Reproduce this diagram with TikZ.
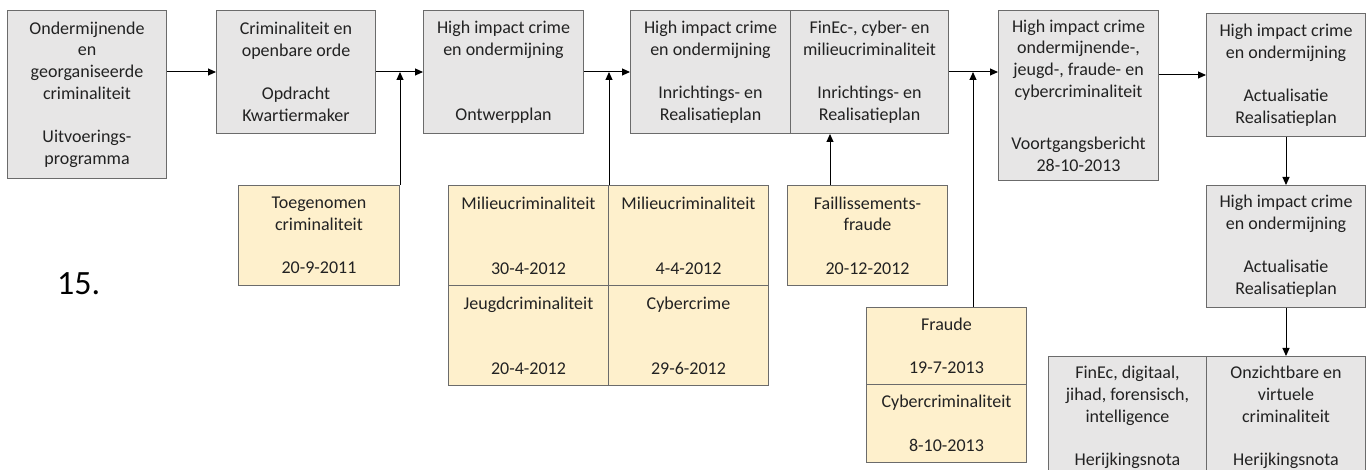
\documentclass[tikz,border=0pt]{standalone}
\usepackage{fontspec}
\setmainfont{Carlito}
\usetikzlibrary{arrows.meta}
\definecolor{boxgray}{HTML}{E7E6E6}
\definecolor{boxyellow}{HTML}{FEF0CC}
\definecolor{edge}{HTML}{6B6B6B}
\definecolor{ink}{HTML}{222222}
\tikzset{
  base/.style={draw=edge, line width=1pt, anchor=north west, inner sep=0pt,
    align=center, text=ink, font=\fontsize{18pt}{21.7pt}\selectfont},
  gbox/.style={base, fill=boxgray},
  ybox/.style={base, fill=boxyellow},
  arr/.style={draw=black, line width=1pt, -{Triangle[length=8pt,width=7pt]}},
}
\begin{document}
\begin{tikzpicture}[x=1pt,y=-1pt]
\useasboundingbox (0,0) rectangle (1371,470);
\clip (0,0) rectangle (1371,470);
\fill[white] (0,0) rectangle (1371,470);

% main chain of plans
\node[gbox, minimum width=159pt, minimum height=168pt] (b1) at (7,10)
  {Ondermijnende\\en\\georganiseerde\\criminaliteit\\ \\Uitvoerings-\\programma};
\node[gbox, minimum width=159pt, minimum height=123pt] (b2) at (216,10)
  {Criminaliteit en\\openbare orde\\ \\Opdracht\\Kwartiermaker};
\node[gbox, minimum width=160pt, minimum height=123pt] (b3) at (423,10)
  {High impact crime\\en ondermijning\\ \\ \\Ontwerpplan};
\node[gbox, minimum width=160pt, minimum height=123pt] (b4l) at (630,10)
  {High impact crime\\en ondermijning\\ \\Inrichtings- en\\Realisatieplan};
\node[gbox, minimum width=158pt, minimum height=123pt] (b4r) at (790,10)
  {FinEc-, cyber- en\\milieucriminaliteit\\ \\Inrichtings- en\\Realisatieplan};
\node[gbox, minimum width=160pt, minimum height=170pt] (b5) at (998,10)
  {High impact crime\\ondermijnende-,\\jeugd-, fraude- en\\cybercriminaliteit\\[9pt] \\Voortgangsbericht\\28-10-2013};
\node[gbox, minimum width=159pt, minimum height=123pt] (b6) at (1206,13)
  {High impact crime\\en ondermijning\\ \\Actualisatie\\Realisatieplan};
\node[gbox, minimum width=159pt, minimum height=122pt] (b7) at (1206,185)
  {High impact crime\\en ondermijning\\ \\Actualisatie\\Realisatieplan};
\node[gbox, minimum width=158pt, minimum height=122pt] (b8l) at (1048,356)
  {FinEc, digitaal,\\jihad, forensisch,\\intelligence\\ \\Herijkingsnota};
\node[gbox, minimum width=159pt, minimum height=122pt] (b8r) at (1206,356)
  {Onzichtbare en\\virtuele\\criminaliteit\\ \\Herijkingsnota};

% reports feeding into the chain
\node[ybox, minimum width=161pt, minimum height=100pt] (t1) at (238,185)
  {Toegenomen\\criminaliteit\\ \\20-9-2011};
\node[ybox, minimum width=160pt, minimum height=100pt] (g11) at (448,185)
  {Milieucriminaliteit\\ \\ \\30-4-2012};
\node[ybox, minimum width=160pt, minimum height=100pt] (g12) at (608,185)
  {Milieucriminaliteit\\ \\ \\4-4-2012};
\node[ybox, minimum width=160pt, minimum height=100pt] (g21) at (448,285)
  {Jeugdcriminaliteit\\ \\ \\20-4-2012};
\node[ybox, minimum width=160pt, minimum height=100pt] (g22) at (608,285)
  {Cybercrime\\ \\ \\29-6-2012};
\node[ybox, minimum width=160pt, minimum height=100pt] (f1) at (787,185)
  {Faillissements-\\fraude\\ \\20-12-2012};
\node[ybox, minimum width=160pt, minimum height=77pt] (fr1) at (866,307)
  {Fraude\\ \\19-7-2013};
\node[ybox, minimum width=160pt, minimum height=78pt] (fr2) at (866,384)
  {Cybercriminaliteit\\ \\8-10-2013};

\node[font=\fontsize{34pt}{40pt}\selectfont, text=black, anchor=west, inner sep=0pt]
  (num) at (57,284) {15.};

% connectors
\draw[arr] (b1.east |- b2.west) -- (b2.west);
\draw[arr] (b2.east) -- (b3.west);
\draw[arr] (b3.east) -- (b4l.west);
\draw[arr] (b4r.east) -- (b4r.east -| b5.west);
\draw[arr] (b5.east |- b6.west) -- (b6.west);
\draw[arr] (b6.south) -- (b7.north);
\draw[arr] (b7.south) -- (b8r.north);

\draw[arr] (t1.north east) -- (t1.north east |- b2.east);
\draw[arr] (g11.north east) -- (g11.north east |- b3.east);
\draw[arr] ([xshift=43pt]f1.north west) -- ([xshift=43pt]f1.north west |- b4r.south);
\draw[arr] ([xshift=107pt]fr1.north west) -- ([xshift=107pt]fr1.north west |- b4r.east);
\end{tikzpicture}
\end{document}
